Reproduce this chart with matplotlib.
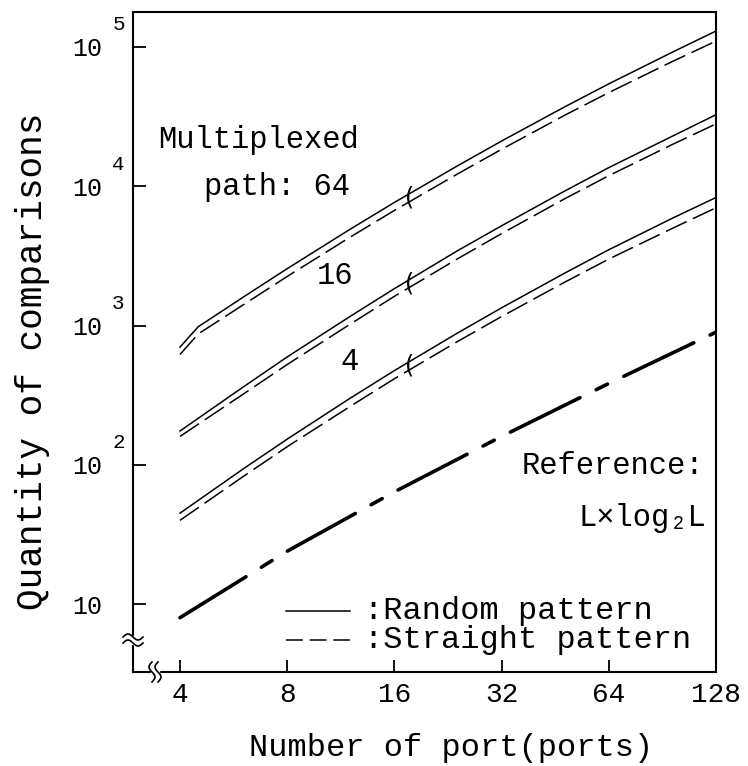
import numpy as np
import matplotlib
matplotlib.use("Agg")
import matplotlib.pyplot as plt

MONO = ["Liberation Mono", "DejaVu Sans Mono"]

L = [4, 6, 8, 12, 16, 24, 32, 48, 64, 96, 128]
L64 = [4, 4.5, 6, 8, 12, 16, 24, 32, 48, 64, 96, 128]

# quantity of comparisons
rand64 = [700, 980, 1590, 2560, 4900, 7650, 13950, 21100, 37000, 54300, 91000, 130000]
str64 = [620, 870, 1400, 2250, 4300, 6700, 12200, 18400, 32200, 47000, 78000, 110000]
rand16 = [175, 360, 595, 1160, 1840, 3430, 5200, 9200, 13600, 22700, 32600]
str16 = [160, 320, 525, 1020, 1620, 3000, 4570, 8100, 11900, 19800, 28000]
rand4 = [45, 93, 153, 300, 475, 880, 1340, 2370, 3500, 5850, 8300]
str4 = [40, 82, 135, 262, 415, 765, 1160, 2040, 3000, 4950, 7000]
Lref = [4, 8, 16, 32, 64, 128]
ref = [8, 24, 64, 160, 384, 896]

xticks = [4, 8, 16, 32, 64, 128]
xticklabels = ["4", "8", "16", "32", "64", "128"]
ydecades = [1, 2, 3, 4, 5]

fig = plt.figure(figsize=(7.48, 7.66), dpi=100)
W, H = 748, 766
x0, x1, y0, y1 = 133, 716, 12, 672
ax = fig.add_axes([x0 / W, 1 - y1 / H, (x1 - x0) / W, (y1 - y0) / H])
ax.set_xscale("log", base=2)
ax.set_yscale("log")
ax.set_xlim(2.952, 128)
ax.set_ylim(3.26, 1.78e5)

lw = 1.1
dash = (15, 4.5)
for xs, r, s in [(L64, rand64, str64), (L, rand16, str16), (L, rand4, str4)]:
    ax.plot(xs, r, color="black", lw=lw)
    ax.plot(xs, s, color="black", lw=lw, dashes=dash)
    # bracket grouping the pair just right of 16 ports
    xb = 17.6
    lr = np.interp(np.log2(xb), np.log2(xs), np.log10(r))
    ls = np.interp(np.log2(xb), np.log2(xs), np.log10(s))
    ax.text(xb, 10 ** ((lr + ls) / 2), "(", fontsize=17, family="DejaVu Sans",
            ha="center", va="center")

ax.plot(Lref, ref, color="black", lw=2.6, dashes=(21.5, 5, 3.5, 5),
        solid_capstyle="round", dash_capstyle="round")

# axes styling
for sp in ax.spines.values():
    sp.set_linewidth(1.5)
ax.minorticks_off()
ax.set_xticks(xticks)
ax.set_xticklabels(xticklabels, family=MONO, fontsize=20)
ax.set_yticks([10 ** k for k in ydecades])
ax.set_yticklabels(["10"] * len(ydecades), family=MONO, fontsize=18)
ax.tick_params(direction="in", length=9, width=1.3)
ax.tick_params(axis="x", pad=7)
ax.tick_params(axis="y", pad=22)
for k in ydecades[1:]:
    ax.annotate(str(k), xy=(0, 10 ** k), xycoords=("axes fraction", "data"),
                xytext=(-15, 9), textcoords="offset points",
                ha="left", va="bottom", family=MONO, fontsize=15)

ax.set_ylabel("Quantity of comparisons", family=MONO, fontsize=26)
ax.set_xlabel("Number of port(ports)", family=MONO, fontsize=23)
ax.yaxis.set_label_coords(-0.142, 0.47)
ax.xaxis.set_label_coords(0.545, -0.092)

# axis break marks
px, py = 1 / (x1 - x0), 1 / (y1 - y0)
t = np.linspace(0, 1, 30)
yb = (y1 - 640) * py
ax.add_patch(plt.Rectangle((-3 * px, yb - 4 * py), 6 * px, 8 * py, transform=ax.transAxes,
                           color="white", clip_on=False, zorder=5))
for d in (-3, 3):
    ax.plot((-10 + 20 * t) * px, yb + (d + 3 * np.sin(2 * np.pi * t)) * py, color="black",
            lw=1.2, transform=ax.transAxes, clip_on=False, zorder=6)
xb_ = (155 - x0) * px
ax.add_patch(plt.Rectangle((xb_ - 4 * px, -3 * py), 8 * px, 6 * py, transform=ax.transAxes,
                           color="white", clip_on=False, zorder=5))
for d in (-3, 3):
    ax.plot(xb_ + (d + 3 * np.sin(2 * np.pi * t)) * px, (-10 + 20 * t) * py, color="black",
            lw=1.2, transform=ax.transAxes, clip_on=False, zorder=6)


# annotations (positions in figure pixels, converted to axes fraction)
def frac(xp, yp):
    return (xp - x0) * px, (y1 - yp) * py


tk = dict(family=MONO, fontsize=22, transform=ax.transAxes)
ax.text(*frac(259, 140), "Multiplexed", ha="center", va="center", **tk)
ax.text(*frac(277, 187), "path: 64", ha="center", va="center", **tk)
ax.text(*frac(335, 276), "16", ha="center", va="center", **tk)
ax.text(*frac(350, 362), "4", ha="center", va="center", **tk)
ax.text(*frac(704, 466), "Reference:", ha="right", va="center", **tk)
ax.text(*frac(706, 518), "L×log₂L", ha="right", va="center", **tk)

# legend
lg = dict(family=MONO, fontsize=23, transform=ax.transAxes)
for yp, style, lab in [(611, "-", ":Random pattern"), (640, "--", ":Straight pattern")]:
    fx0, fy = frac(286, yp)
    fx1, _ = frac(350, yp)
    kw = dict(dashes=(11, 4.5)) if style == "--" else {}
    ax.plot([fx0, fx1], [fy, fy], color="black", lw=lw, transform=ax.transAxes, **kw)
    ax.text(frac(364, yp)[0], fy, lab, ha="left", va="center", **lg)

fig.savefig("out.png", dpi=100)
